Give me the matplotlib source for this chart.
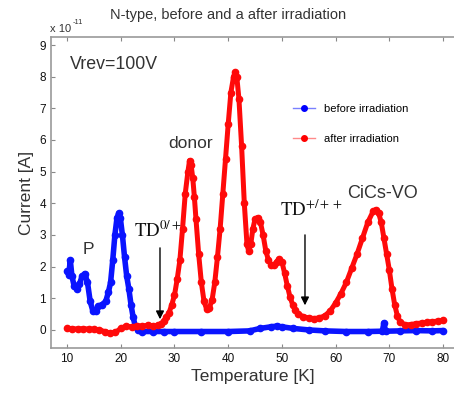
import matplotlib
matplotlib.use("Agg")
from matplotlib import pyplot as plt
from matplotlib.lines import Line2D

plt.rcParams['font.family'] = ['Liberation Sans', 'DejaVu Sans']
plt.rcParams['mathtext.fontset'] = 'stix'

# before irradiation (blue)
t_before = [10, 10.3, 10.6, 10.9, 11.3, 11.8, 12.3, 12.8, 13.3, 13.8, 14.3, 14.8,
            15.3, 15.8, 16.5, 17.2, 17.7, 18.1, 18.5, 18.9, 19.3, 19.6, 19.9, 20.3,
            20.7, 21.1, 21.5, 21.9, 22.3, 22.7, 23.2, 24, 26, 28, 30, 35, 40, 44,
            46, 48, 49, 50, 52, 55, 58, 62, 66, 68.7, 69, 69.3, 72, 75, 78, 80]
i_before = [1.85, 1.75, 2.2, 1.7, 1.4, 1.3, 1.45, 1.7, 1.78, 1.5, 0.9, 0.6,
            0.6, 0.75, 0.8, 0.9, 1.2, 1.5, 2.2, 3.0, 3.55, 3.68, 3.55, 3.0,
            2.3, 1.7, 1.3, 0.8, 0.4, 0.12, 0.0, -0.05, -0.05, -0.05, -0.05, -0.05, -0.05, -0.03,
            0.05, 0.1, 0.12, 0.1, 0.05, 0.0, -0.03, -0.05, -0.05, -0.04, 0.22, -0.04, -0.03, -0.02, -0.03, -0.02]

# after irradiation (red)
t_after = [10, 11, 12, 13, 14, 15, 16, 17, 18, 19, 20, 21, 22, 23, 24, 25, 26, 27,
           27.5, 28, 28.5, 29, 29.5, 30, 30.5, 31, 31.5, 32, 32.5, 32.8, 33.1, 33.4,
           33.7, 34, 34.5, 35, 35.5, 36, 36.5, 37, 37.5, 38, 38.5, 39, 39.5, 40, 40.5,
           41, 41.3, 41.6, 42, 42.5, 43, 43.5, 43.8, 44.2, 44.6, 45, 45.5, 46, 46.5,
           47, 47.5, 48, 48.5, 49, 49.5, 50, 50.5, 51, 51.5, 52, 52.5, 53, 54, 55, 56,
           57, 58, 59, 60, 61, 62, 63, 64, 65, 66, 67, 67.5, 68, 68.5, 69, 69.5, 70,
           70.5, 71, 71.5, 72, 73, 74, 75, 76, 77, 78, 79, 80]
i_after = [0.05, 0.04, 0.03, 0.04, 0.03, 0.02, 0.0, -0.05, -0.1, -0.08, 0.05, 0.12, 0.1, 0.13, 0.12, 0.15, 0.13, 0.15,
           0.2, 0.28, 0.4, 0.55, 0.8, 1.1, 1.6, 2.2, 3.2, 4.3, 5.0, 5.35, 5.2, 4.8,
           4.2, 3.5, 2.4, 1.5, 0.9, 0.65, 0.7, 0.95, 1.5, 2.3, 3.2, 4.3, 5.4, 6.5, 7.5,
           8.0, 8.15, 8.0, 7.3, 5.8, 4.0, 2.7, 2.5, 2.7, 3.2, 3.5, 3.55, 3.4, 3.0,
           2.5, 2.2, 2.05, 2.05, 2.15, 2.25, 2.15, 1.8, 1.4, 1.05, 0.8, 0.62, 0.5, 0.42, 0.38, 0.36,
           0.38, 0.45, 0.6, 0.85, 1.15, 1.5, 1.95, 2.4, 2.9, 3.4, 3.75, 3.8, 3.7, 3.4, 2.9, 2.4, 1.9,
           1.3, 0.8, 0.45, 0.25, 0.16, 0.17, 0.2, 0.22, 0.24, 0.26, 0.28, 0.3]

xticks = [10, 20, 30, 40, 50, 60, 70, 80]
yticks = [0, 1, 2, 3, 4, 5, 6, 7, 8, 9]

fig = plt.figure(figsize=(4.54, 3.94), dpi=100)
ax = fig.add_axes([0.1123, 0.1168, 0.8877, 0.789])

ax.plot(t_before, i_before, color='#0a14ff', lw=4, marker='o', ms=4.5, solid_capstyle='round')
ax.plot(t_after, i_after, color='#ff0a0a', lw=3.6, marker='o', ms=4.5, solid_capstyle='round')

ax.set_xlim(7.0, 82.05)
ax.set_ylim(-0.57, 9.25)
ax.set_xticks(xticks)
ax.set_yticks(yticks)
ax.tick_params(direction='in', length=3, colors='#888888', labelcolor='#111111',
               labelsize=8.5, top=True, width=0.8)
for s in ['left', 'bottom', 'top']:
    ax.spines[s].set_color('#999999')
    ax.spines[s].set_linewidth(1.2)
ax.spines['right'].set_visible(False)

ax.set_xlabel('Temperature [K]', fontsize=12.5, color='#333333', labelpad=3)
ax.set_ylabel('Current [A]', fontsize=12.5, color='#333333', labelpad=4)

fig.text(228 / 454, 1 - 15 / 394, 'N-type, before and a after irradiation',
         ha='center', va='center', fontsize=10.5, color='#333333')
fig.text(50 / 454, 1 - 29 / 394, 'x 10', ha='left', va='center', fontsize=8, color='#333333')
fig.text(73 / 454, 1 - 23 / 394, '-11', ha='left', va='center', fontsize=5.5, color='#333333')

ax.text(10.6, 8.4, 'Vrev=100V', fontsize=12.8, color='#333333', va='center')
ax.text(28.8, 5.9, 'donor', fontsize=12.5, color='#333333', va='center')
ax.text(12.8, 2.55, 'P', fontsize=12.5, color='#333333', va='center')
ax.text(62.2, 4.3, 'CiCs-VO', fontsize=13, color='#333333', va='center')
ax.text(22.4, 2.95, r'$\mathrm{TD}^{0/+}$', fontsize=13.5, color='#111111', va='baseline')
ax.text(49.6, 3.6, r'$\mathrm{TD}^{+/++}$', fontsize=13.5, color='#111111', va='baseline')

ax.annotate('', xy=(27.3, 0.25), xytext=(27.3, 2.68),
            arrowprops=dict(arrowstyle='-|>', color='black', lw=1, mutation_scale=12))
ax.annotate('', xy=(54.3, 0.69), xytext=(54.3, 3.09),
            arrowprops=dict(arrowstyle='-|>', color='black', lw=1, mutation_scale=12))

handles = [Line2D([], [], color='#7a80ff', lw=1, marker='o', ms=4,
                  markerfacecolor='#0000ff', markeredgecolor='#0000ff'),
           Line2D([], [], color='#ff8a8a', lw=1, marker='o', ms=4,
                  markerfacecolor='#ff0000', markeredgecolor='#ff0000')]
ax.legend(handles, ['before irradiation', 'after irradiation'], frameon=False,
          fontsize=8, loc='upper left', bbox_to_anchor=(0.576, 0.816),
          handlelength=2.0, handletextpad=0.8, labelspacing=1.8)

fig.savefig('out.png', dpi=100)
